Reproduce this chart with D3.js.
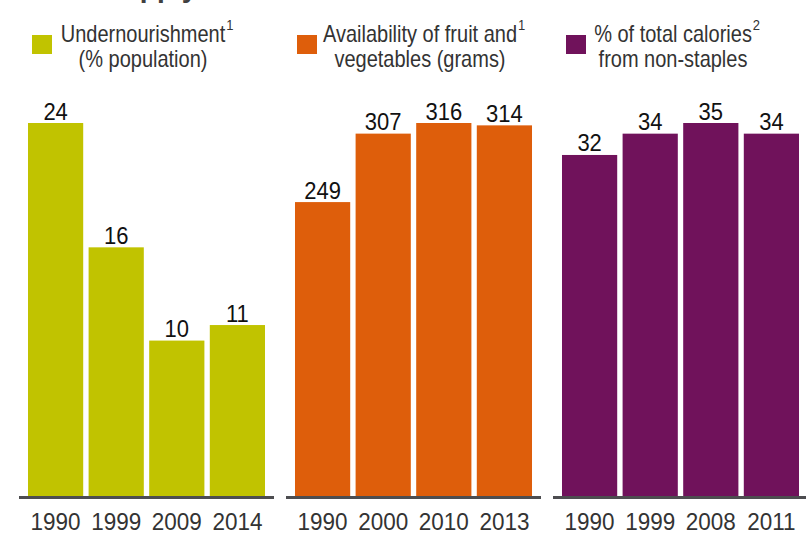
<!DOCTYPE html>
<html>
<head>
<meta charset="utf-8">
<script src="https://cdn.jsdelivr.net/npm/d3@7"></script>
<style>
  html, body { margin: 0; padding: 0; background: #fff; }
  svg { display: block; font-family: Arial, "Liberation Sans", sans-serif; }
</style>
</head>
<body>
<svg id="chart" width="806" height="536"></svg>
<script>
// ---- data ----
const titleText = "Food supply";
const legendLine1 = ["Undernourishment", "Availability of fruit and", "% of total calories"];
const legendLine2 = ["(% population)", "vegetables (grams)", "from non-staples"];
const legendNotes = ["1", "1", "2"];
const colors = ["#c1c300", "#de5e0b", "#70125b"];

const years1 = ["1990", "1999", "2009", "2014"];
const values1 = [24, 16, 10, 11];
const years2 = ["1990", "2000", "2010", "2013"];
const values2 = [249, 307, 316, 314];
const years3 = ["1990", "1999", "2008", "2011"];
const values3 = [32, 34, 35, 34];

const panels = [
  { years: years1, values: values1 },
  { years: years2, values: values2 },
  { years: years3, values: values3 }
];

// ---- layout ----
const svg = d3.select("#chart");
const panelX = [19, 286, 553];
const lineW = 255;
const baseY = 496;
const topY = 123;
const stretch = 1.17;

svg.append("text")
  .attr("x", 31).attr("y", -3)
  .attr("font-size", 28).attr("font-weight", "bold")
  .attr("fill", "#404040")
  .text(titleText);

panels.forEach((p, i) => {
  const x0 = panelX[i];
  const g = svg.append("g");
  const x = d3.scaleBand()
    .domain(p.years)
    .range([x0 + 6.3, x0 + 248.7])
    .paddingInner(0.089)
    .paddingOuter(0.0445);
  const y = d3.scaleLinear()
    .domain([0, d3.max(p.values)])
    .range([baseY, topY]);

  g.selectAll("rect.bar")
    .data(p.values)
    .join("rect")
    .attr("class", "bar")
    .attr("x", (d, j) => x(p.years[j]))
    .attr("width", x.bandwidth())
    .attr("y", d => y(d))
    .attr("height", d => baseY - y(d))
    .attr("fill", colors[i]);

  g.selectAll("text.val")
    .data(p.values)
    .join("text")
    .attr("class", "val")
    .attr("transform", (d, j) => `translate(${x(p.years[j]) + x.bandwidth() / 2},${y(d) - 3.5}) scale(1,1.08)`)
    .attr("text-anchor", "middle")
    .attr("font-size", 22)
    .attr("fill", "#111")
    .text(d => d);

  // baseline
  g.append("line")
    .attr("x1", x0).attr("x2", x0 + lineW)
    .attr("y1", baseY + 1.5).attr("y2", baseY + 1.5)
    .attr("stroke", "#4d4d50").attr("stroke-width", 3);

  // year axis
  const axis = d3.axisBottom(x).tickSize(0).tickPadding(0);
  const ag = g.append("g")
    .attr("transform", `translate(0, ${530})`)
    .call(axis);
  ag.select(".domain").remove();
  ag.selectAll("text")
    .attr("dy", 0)
    .attr("y", 0)
    .attr("transform", "scale(1,1.08)")
    .attr("font-size", 22.5)
    .attr("font-family", "Arial, 'Liberation Sans', sans-serif")
    .attr("fill", "#333");

  // legend
  const lx = [32, 297, 566][i];
  svg.append("rect")
    .attr("x", lx).attr("y", 35)
    .attr("width", 20).attr("height", 19)
    .attr("fill", colors[i]);
  const cx = [143, 420, 673][i];
  const t1 = svg.append("text")
    .attr("transform", `translate(${cx},42) scale(1,${stretch})`)
    .attr("text-anchor", "middle")
    .attr("font-size", 20)
    .attr("fill", "#333");
  t1.append("tspan").text(legendLine1[i]);
  svg.append("text")
    .attr("transform", `translate(${cx},67) scale(1,${stretch})`)
    .attr("text-anchor", "middle")
    .attr("font-size", 20)
    .attr("fill", "#333")
    .text(legendLine2[i]);
  // superscript note
  const w = t1.node().getComputedTextLength();
  svg.append("text")
    .attr("transform", `translate(${cx + w / 2 + 1},30) scale(1,${stretch})`)
    .attr("font-size", 13)
    .attr("fill", "#333")
    .text(legendNotes[i]);
});
</script>
</body>
</html>
